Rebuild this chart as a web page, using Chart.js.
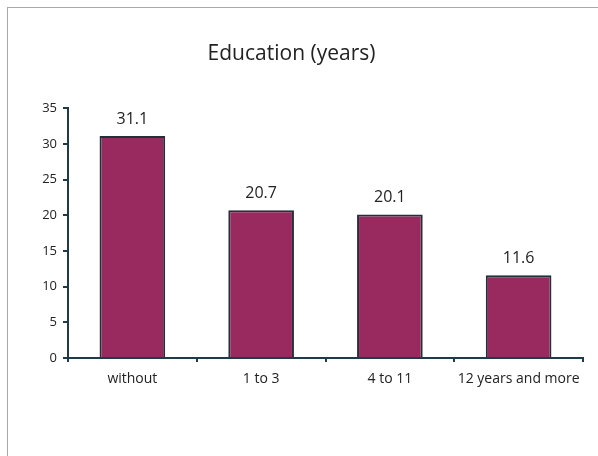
<!DOCTYPE html>
<html>
<head>
    <title>Education (years)</title>
    <style>
        body {
            margin: 0;
            background: #fff;
        }
        #frame {
            position: absolute;
            left: 7px;
            top: 7px;
            width: 600px;
            height: 460px;
            border-left: 1px solid #a8a8a8;
            border-top: 1px solid #a8a8a8;
        }
        #chart-container {
            position: absolute;
            left: 0;
            top: 0;
            width: 598px;
            height: 456px;
        }
    </style>
</head>
<body>
<div id="frame"></div>
<div id="chart-container">
    <canvas id="eduChart" width="598" height="456"></canvas>
</div>

<script src="https://cdn.jsdelivr.net/npm/chart.js"></script>

<script>
    const categories = ['without', '1 to 3', '4 to 11', '12 years and more'];
    const values = [31.1, 20.7, 20.1, 11.6];

    const axisColor = '#1f3a48';
    const fontFamily = "'Open Sans', 'Noto Sans', sans-serif";

    // draw the value above each bar
    const valueLabels = {
        id: 'valueLabels',
        afterDatasetsDraw(chart) {
            const ctx = chart.ctx;
            const meta = chart.getDatasetMeta(0);
            ctx.save();
            ctx.font = '16px ' + fontFamily;
            ctx.fillStyle = '#222';
            ctx.textAlign = 'center';
            ctx.textBaseline = 'bottom';
            meta.data.forEach((bar, i) => {
                ctx.fillText(values[i].toFixed(1), bar.x, bar.y - 9);
            });
            ctx.restore();
        }
    };

    const ctx = document.getElementById('eduChart').getContext('2d');
    new Chart(ctx, {
        type: 'bar',
        data: {
            labels: categories,
            datasets: [{
                data: values,
                backgroundColor: '#982a5f',
                borderColor: '#23303a',
                borderWidth: 2,
                barPercentage: 0.51,
                categoryPercentage: 1.0
            }]
        },
        options: {
            responsive: false,
            animation: false,
            layout: {
                padding: { left: 0, right: 15, top: 0, bottom: 0 }
            },
            plugins: {
                legend: { display: false },
                tooltip: { enabled: false },
                title: {
                    display: true,
                    text: 'Education (years)',
                    color: '#222',
                    font: { family: fontFamily, size: 21, weight: 'normal' },
                    padding: { top: 41, bottom: 42 }
                }
            },
            scales: {
                x: {
                    offset: true,
                    grid: {
                        offset: true,
                        drawOnChartArea: false,
                        drawTicks: true,
                        tickLength: 4,
                        lineWidth: 2,
                        color: axisColor
                    },
                    border: { display: true, color: axisColor, width: 2 },
                    ticks: {
                        color: '#222',
                        padding: 9,
                        font: { family: fontFamily, size: 14 }
                    },
                    afterFit(scale) { scale.height = 98; }
                },
                y: {
                    min: 0,
                    max: 35,
                    grid: {
                        drawOnChartArea: false,
                        drawTicks: true,
                        tickLength: 5,
                        lineWidth: 2,
                        color: axisColor
                    },
                    border: { display: true, color: axisColor, width: 2 },
                    ticks: {
                        stepSize: 5,
                        color: '#222',
                        padding: 6,
                        font: { family: fontFamily, size: 13 }
                    },
                    afterFit(scale) { scale.width = 68; }
                }
            }
        },
        plugins: [valueLabels]
    });
</script>
</body>
</html>
